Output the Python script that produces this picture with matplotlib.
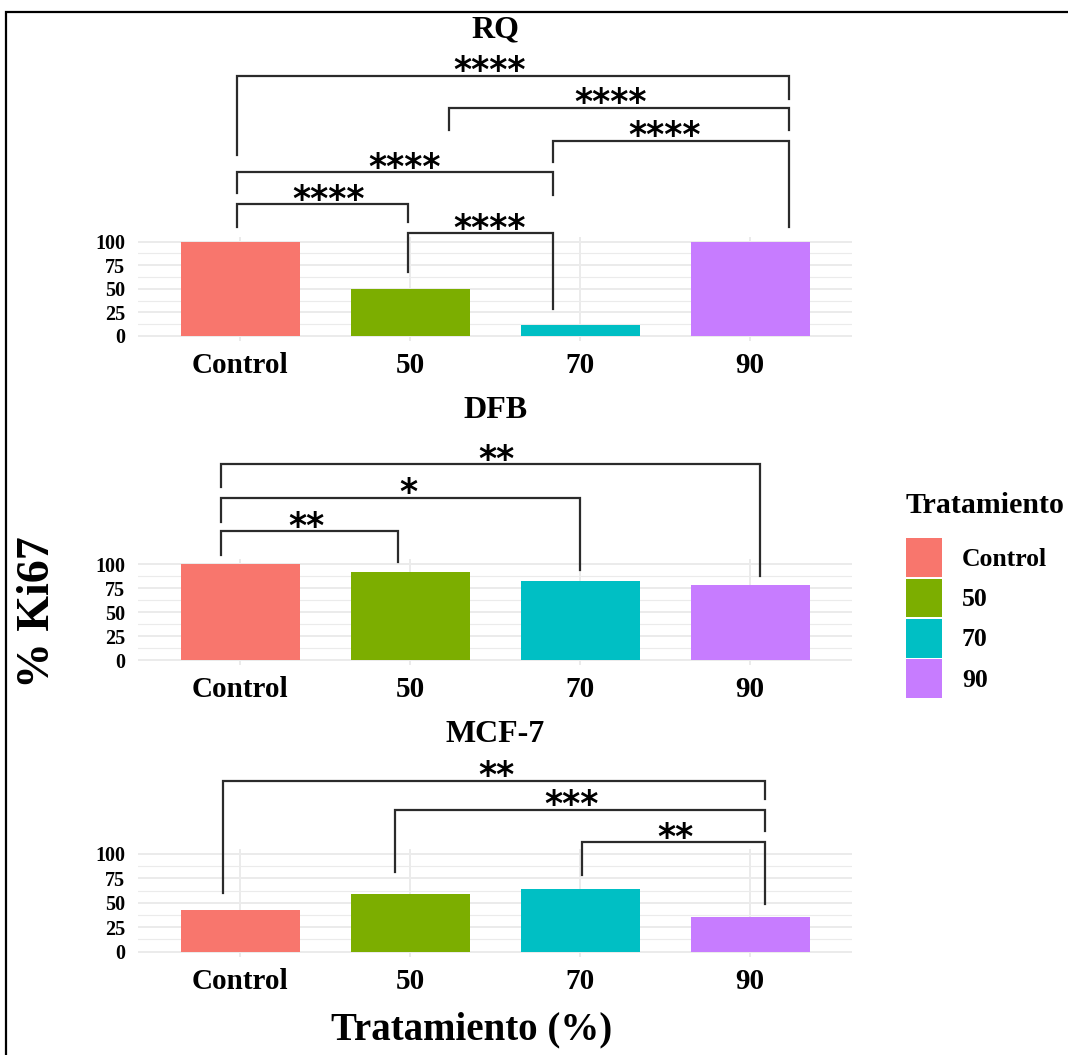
import matplotlib
matplotlib.use("Agg")
import matplotlib.pyplot as plt
from matplotlib.patches import Rectangle

# ---------------- data ----------------
categories = ["Control", "50", "70", "90"]
colors = ["#F8766D", "#7CAE00", "#00BFC4", "#C77CFF"]
panel_titles = ["RQ", "DFB", "MCF-7"]
rq_values = [100, 50, 12, 100]
dfb_values = [100, 92, 82, 78]
mcf_values = [43, 59, 64, 35]
y_ticks = [0, 25, 50, 75, 100]

# brackets: (x_left, x_right, y_line, y_left_end, y_right_end, label, label_x)
rq_brackets = [
    (-0.02, 3.23, 276, 192, 251, "****", 1.47),
    (1.23, 3.23, 242, 218, 218, "****", 2.18),
    (1.84, 3.23, 207, 185, 116, "****", 2.50),
    (-0.02, 1.84, 174, 152, 150, "****", 0.97),
    (-0.02, 0.99, 140, 116, 121, "****", 0.52),
    (0.99, 1.84, 109, 68, 29, "****", 1.47),
]
dfb_brackets = [
    (-0.11, 3.06, 204, 180, 88, "**", 1.51),
    (-0.11, 2.00, 169, 144, 94, "*", 0.99),
    (-0.11, 0.93, 134, 109, 102, "**", 0.39),
]
mcf_brackets = [
    (-0.10, 3.09, 175, 60, 156, "**", 1.51),
    (0.91, 3.09, 145, 81, 123, "***", 1.95),
    (2.01, 3.09, 112, 78, 49, "**", 2.56),
]

SERIF = ["Liberation Serif", "DejaVu Serif"]
W, H = 1068, 1055
fig = plt.figure(figsize=(W / 100, H / 100), dpi=100)
fig.patch.set_facecolor("white")

# outer frame
frame = Rectangle((6 / W, -0.01), 1.05, 1 - 12 / H + 0.01, transform=fig.transFigure,
                  fill=False, edgecolor="black", linewidth=1.6)
fig.add_artist(frame)

# axes positions in pixels (top, bottom)
ax_left, ax_right = 138, 852
panel_px = [(237, 340.7), (559.2, 664.8), (849, 956.6)]
title_px = [30, 410, 735]
panel_values = [rq_values, dfb_values, mcf_values]
panel_brackets = [rq_brackets, dfb_brackets, mcf_brackets]

for i in range(3):
    top, bot = panel_px[i]
    ax = fig.add_axes([ax_left / W, 1 - bot / H, (ax_right - ax_left) / W, (bot - top) / H])
    ax.set_xlim(-0.6, 3.6)
    ax.set_ylim(-5, 105)
    for s in ax.spines.values():
        s.set_visible(False)
    # grid
    for yv in [12.5, 37.5, 62.5, 87.5]:
        ax.axhline(yv, color="#EBEBEB", lw=0.8, zorder=0)
    for yv in y_ticks:
        ax.axhline(yv, color="#EBEBEB", lw=1.4, zorder=0)
    for xv in range(len(categories)):
        ax.axvline(xv, color="#EBEBEB", lw=1.4, zorder=0)
    ax.bar(range(len(categories)), panel_values[i], width=0.7, color=colors, zorder=2)
    ax.set_xticks(range(len(categories)))
    ax.set_xticklabels(categories, fontsize=21, fontweight="bold", family=SERIF)
    ax.set_yticks(y_ticks)
    ax.set_yticklabels([str(t) for t in y_ticks], fontsize=14.5, fontweight="bold", family=SERIF)
    ax.tick_params(axis="both", length=0)
    ax.tick_params(axis="x", pad=8)
    ax.tick_params(axis="y", pad=9)
    # brackets
    for (x1, x2, yl, ye1, ye2, lab, lx) in panel_brackets[i]:
        ax.plot([x1, x1, x2, x2], [ye1, yl, yl, ye2], color="#2b2b2b", lw=1.6,
                clip_on=False, zorder=5, solid_joinstyle="miter")
        ax.annotate(lab, xy=(lx, yl), xytext=(0, -4), textcoords="offset points",
                    ha="center", va="baseline", fontsize=25, fontweight="bold",
                    family="DejaVu Sans", annotation_clip=False, zorder=6)
    fig.text((ax_left + ax_right) / 2 / W, 1 - title_px[i] / H, panel_titles[i],
             ha="center", va="center", fontsize=23, fontweight="bold", family=SERIF)

# axis labels
fig.text(38 / W, 1 - 612 / H, "% Ki67", rotation=90, ha="center", va="center",
         fontsize=33, fontweight="bold", family=SERIF)
fig.text(472 / W, 1 - 1030 / H, "Tratamiento (%)", ha="center", va="center",
         fontsize=28, fontweight="bold", family=SERIF)

# legend
handles = [Rectangle((0, 0), 1, 1, facecolor=c, edgecolor="none") for c in colors]
leg = fig.legend(handles, categories, loc="upper left",
                 bbox_to_anchor=(906 / W, 1 - 492 / H), frameon=False,
                 title="Tratamiento", alignment="left",
                 prop={"family": SERIF, "weight": "bold", "size": 18.5},
                 title_fontproperties={"family": SERIF, "weight": "bold", "size": 21.5},
                 handlelength=1.42, handleheight=1.95, labelspacing=0.05,
                 handletextpad=0.75, borderpad=0, borderaxespad=0)
leg._legend_box.sep = 14

fig.savefig("out.png", dpi=100, facecolor="white")
